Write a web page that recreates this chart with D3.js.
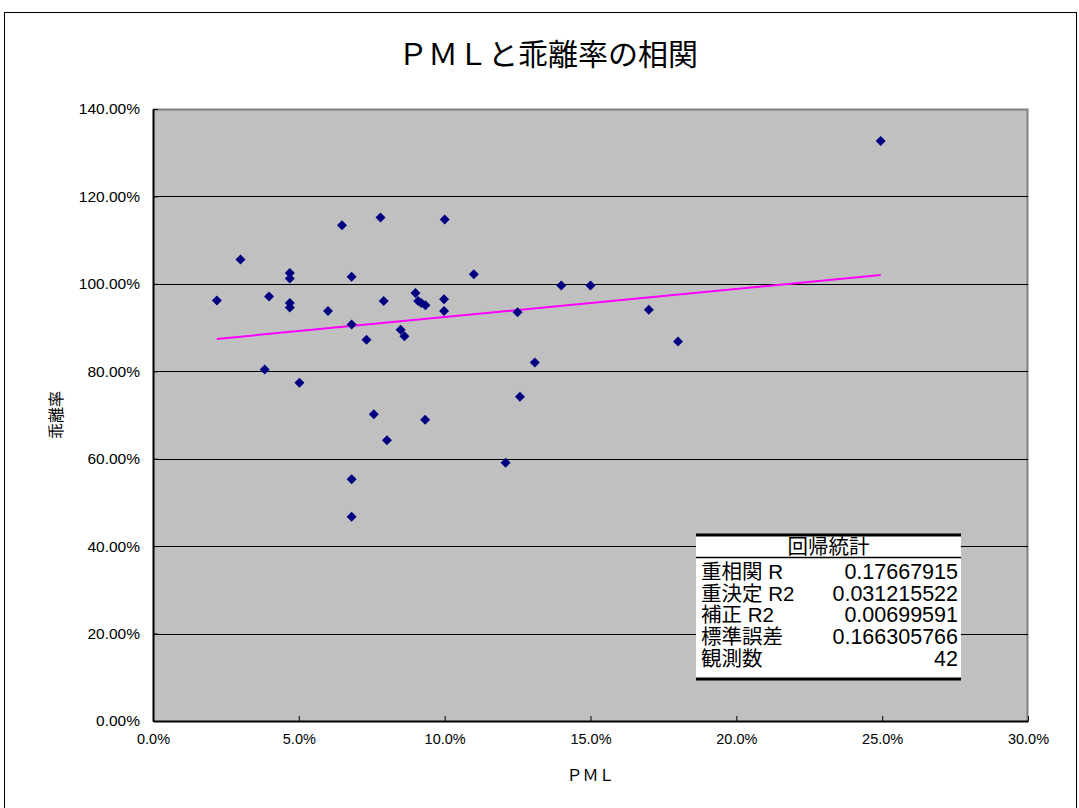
<!DOCTYPE html>
<html>
<head>
<meta charset="utf-8">
<script src="https://cdn.jsdelivr.net/npm/d3@7/dist/d3.min.js"></script>
<style>
  html, body { margin: 0; padding: 0; background: #ffffff; }
  svg { display: block; }
</style>
</head>
<body>
<svg id="chart" width="1079" height="808"></svg>
<script>
// PML (x) and 乖離率 (y) per observation
const pml = [
  0.0219, 0.0300, 0.0383, 0.0398, 0.0469, 0.0469, 0.0469, 0.0469, 0.0502, 0.0600,
  0.0648, 0.0681, 0.0681, 0.0681, 0.0681, 0.0732, 0.0757, 0.0780, 0.0791, 0.0802,
  0.0849, 0.0862, 0.0900, 0.0909, 0.0920, 0.0934, 0.0933, 0.1000, 0.0998, 0.0998,
  0.1100, 0.1209, 0.1250, 0.1258, 0.1309, 0.1400, 0.1500, 0.1700, 0.1800, 0.2495
];
const kairi = [
  0.962, 1.056, 0.804, 0.971, 1.025, 1.012, 0.956, 0.946, 0.774, 0.938,
  1.134, 1.016, 0.907, 0.553, 0.467, 0.872, 0.702, 1.152, 0.961, 0.642,
  0.895, 0.880, 0.979, 0.961, 0.956, 0.951, 0.689, 1.147, 0.965, 0.938,
  1.022, 0.591, 0.935, 0.742, 0.820, 0.996, 0.996, 0.941, 0.868, 1.327
];

// linear trend line end points
const trendPml = [0.0219, 0.2495];
const trendKairi = [0.874, 1.020];

// axis ticks
const xTicks = [0, 0.05, 0.10, 0.15, 0.20, 0.25, 0.30];
const yTicks = [0, 0.2, 0.4, 0.6, 0.8, 1.0, 1.2, 1.4];

// regression statistics table
const statHeader = "回帰統計";
const statLabels = ["重相関 R", "重決定 R2", "補正 R2", "標準誤差", "観測数"];
const statValues = ["0.17667915", "0.031215522", "0.00699591", "0.166305766", "42"];

const svg = d3.select("#chart");
const latin = "'Liberation Sans', Arial, sans-serif";
const jp = "'Noto Sans CJK JP', 'Noto Sans', sans-serif";

// outer chart frame
svg.append("rect")
  .attr("x", 4.5).attr("y", 12.5)
  .attr("width", 1072).attr("height", 800)
  .attr("fill", "#ffffff").attr("stroke", "#000000").attr("stroke-width", 1);

const plot = { left: 153, top: 109, right: 1028, bottom: 721 };

const x = d3.scaleLinear().domain([0, 0.30]).range([plot.left, plot.right]);
const y = d3.scaleLinear().domain([0, 1.4]).range([plot.bottom, plot.top]);

// plot area
svg.append("rect")
  .attr("x", plot.left).attr("y", plot.top)
  .attr("width", plot.right - plot.left).attr("height", plot.bottom - plot.top)
  .attr("fill", "#c0c0c0");

// grey border on top and right
svg.append("path")
  .attr("d", `M${plot.left},${plot.top + 0.5}H${plot.right - 0.5}V${plot.bottom}`)
  .attr("fill", "none").attr("stroke", "#808080").attr("stroke-width", 2);

// horizontal gridlines
svg.append("g")
  .selectAll("line")
  .data(yTicks.filter(t => t > 0 && t < 1.4))
  .join("line")
  .attr("x1", plot.left).attr("x2", plot.right)
  .attr("y1", d => Math.round(y(d)) + 0.5).attr("y2", d => Math.round(y(d)) + 0.5)
  .attr("stroke", "#000000").attr("stroke-width", 1);

// x axis
const xAxis = d3.axisBottom(x)
  .tickValues(xTicks)
  .tickSizeInner(-5).tickSizeOuter(0)
  .tickPadding(13)
  .tickFormat(d3.format(".1%"));
const gx = svg.append("g")
  .attr("transform", `translate(0,${plot.bottom})`)
  .call(xAxis);
gx.select(".domain").attr("stroke", "#000000").attr("stroke-width", 2);
gx.selectAll(".tick line").attr("stroke", "#000000");
gx.selectAll(".tick text")
  .attr("font-family", latin).attr("font-size", 14.5).attr("fill", "#000000");

// y axis
const yAxis = d3.axisLeft(y)
  .tickValues(yTicks)
  .tickSizeInner(-5).tickSizeOuter(0)
  .tickPadding(13)
  .tickFormat(d3.format(".2%"));
const gy = svg.append("g")
  .attr("transform", `translate(${plot.left},0)`)
  .call(yAxis);
gy.select(".domain").attr("stroke", "#000000").attr("stroke-width", 2);
gy.selectAll(".tick line").attr("stroke", "#000000");
gy.selectAll(".tick text")
  .attr("font-family", latin).attr("font-size", 15.5).attr("fill", "#000000");

// trend line
svg.append("line")
  .attr("x1", x(trendPml[0])).attr("y1", y(trendKairi[0]))
  .attr("x2", x(trendPml[1])).attr("y2", y(trendKairi[1]))
  .attr("stroke", "#ff00ff").attr("stroke-width", 2);

// diamond markers
const diamond = "M0,-5L5,0L0,5L-5,0Z";
svg.append("g")
  .selectAll("path")
  .data(pml.map((p, i) => [p, kairi[i]]))
  .join("path")
  .attr("d", diamond)
  .attr("transform", d => `translate(${x(d[0])},${y(d[1])})`)
  .attr("fill", "#000080");

// titles
svg.append("text")
  .attr("x", 548).attr("y", 65)
  .attr("text-anchor", "middle")
  .attr("font-family", jp).attr("font-size", 30)
  .text("ＰＭＬと乖離率の相関");

svg.append("text")
  .attr("x", (plot.left + plot.right) / 2).attr("y", 781)
  .attr("text-anchor", "middle")
  .attr("font-family", jp).attr("font-size", 16)
  .text("ＰＭＬ");

svg.append("text")
  .attr("transform", `translate(62,${(plot.top + plot.bottom) / 2}) rotate(-90)`)
  .attr("text-anchor", "middle")
  .attr("font-family", jp).attr("font-size", 16)
  .text("乖離率");

// regression statistics box
const tb = { left: 696, right: 961, top: 535, bottom: 679 };
const tg = svg.append("g");
tg.append("rect")
  .attr("x", tb.left).attr("y", tb.top)
  .attr("width", tb.right - tb.left).attr("height", tb.bottom - tb.top)
  .attr("fill", "#ffffff");
tg.append("line")
  .attr("x1", tb.left).attr("x2", tb.right)
  .attr("y1", tb.top).attr("y2", tb.top)
  .attr("stroke", "#000000").attr("stroke-width", 3);
tg.append("line")
  .attr("x1", tb.left).attr("x2", tb.right)
  .attr("y1", tb.bottom).attr("y2", tb.bottom)
  .attr("stroke", "#000000").attr("stroke-width", 3);
tg.append("line")
  .attr("x1", tb.left).attr("x2", tb.right)
  .attr("y1", 557.5).attr("y2", 557.5)
  .attr("stroke", "#000000").attr("stroke-width", 1.5);
tg.append("text")
  .attr("x", (tb.left + tb.right) / 2).attr("y", 554)
  .attr("text-anchor", "middle")
  .attr("font-family", jp).attr("font-size", 20.5)
  .text(statHeader);

const rowH = 21.7;
const row0 = 579;
tg.selectAll("text.lab")
  .data(statLabels)
  .join("text")
  .attr("class", "lab")
  .attr("x", 701).attr("y", (d, i) => row0 + i * rowH)
  .attr("font-family", `${latin.split(",")[0]}, ${jp}`).attr("font-size", 20.5)
  .text(d => d);
tg.selectAll("text.val")
  .data(statValues)
  .join("text")
  .attr("class", "val")
  .attr("x", 958).attr("y", (d, i) => row0 + i * rowH)
  .attr("text-anchor", "end")
  .attr("font-family", latin).attr("font-size", 21.5)
  .text(d => d);
</script>
</body>
</html>
